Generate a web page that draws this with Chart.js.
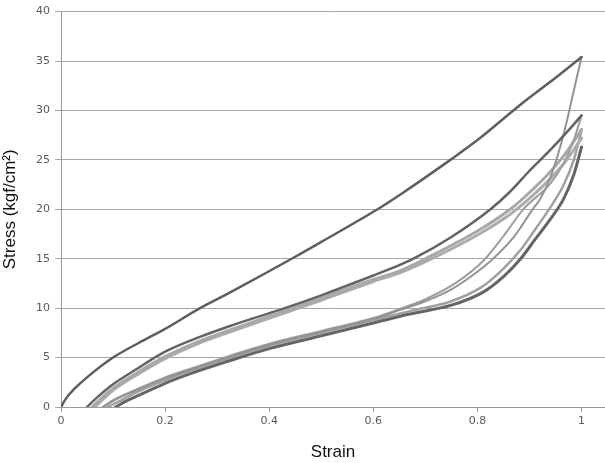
<!DOCTYPE html>
<html>
<head>
<meta charset="utf-8">
<script src="https://cdn.jsdelivr.net/npm/chart.js@4.4.1/dist/chart.umd.min.js"></script>
<style>
  html, body { margin: 0; padding: 0; background: #fff; }
  #wrap { width: 605px; height: 463px; position: relative; }
</style>
</head>
<body>
<div id="wrap"><canvas id="stressChart"></canvas></div>
<script>
// Tick labels
const strainTicks = [0, 0.2, 0.4, 0.6, 0.8, 1];
const stressTicks = [0, 5, 10, 15, 20, 25, 30, 35, 40];

// Cycle 1 loading (top curve)
const load1Strain = [0, 0.01, 0.025, 0.05, 0.1, 0.15, 0.2, 0.267, 0.325, 0.45, 0.5, 0.608, 0.652, 0.748, 0.8, 0.869, 0.9, 0.95, 1.0];
const load1Stress = [0, 0.9, 1.8, 3.0, 5.0, 6.5, 7.9, 10.0, 11.6, 15.2, 16.7, 20.0, 21.5, 25.0, 27.0, 30.0, 31.3, 33.3, 35.4];

// Cycle 1 unloading
const unload1Strain = [1.0, 0.985, 0.973, 0.96, 0.94, 0.92, 0.906, 0.87, 0.83, 0.79, 0.75, 0.7, 0.65, 0.6, 0.5, 0.4, 0.325, 0.25, 0.2, 0.15, 0.1, 0.082];
const unload1Stress = [35.4, 32.0, 29.2, 26.5, 23.2, 21.0, 20.0, 17.2, 15.0, 13.3, 11.9, 10.7, 9.8, 8.9, 7.6, 6.3, 5.1, 3.8, 2.9, 1.8, 0.6, 0];

// Cycle 2 loading
const load2Strain = [0.05, 0.07, 0.1, 0.15, 0.18, 0.2, 0.267, 0.325, 0.43, 0.5, 0.6, 0.652, 0.677, 0.75, 0.825, 0.863, 0.9, 0.94, 0.97, 1.0];
const load2Stress = [0, 1.0, 2.3, 4.0, 5.0, 5.6, 7.1, 8.2, 10.0, 11.3, 13.3, 14.4, 15.0, 17.2, 20.0, 21.8, 23.9, 26.0, 27.7, 29.5];

// Cycle 2 unloading
const unload2Strain = [1.0, 0.985, 0.965, 0.94, 0.888, 0.85, 0.815, 0.76, 0.7, 0.65, 0.6, 0.5, 0.4, 0.325, 0.25, 0.2, 0.15, 0.1, 0.08];
const unload2Stress = [29.5, 27.0, 24.6, 22.6, 20.0, 17.3, 15.0, 12.6, 10.9, 9.9, 9.0, 7.7, 6.4, 5.2, 3.9, 3.0, 1.9, 0.7, 0];

// Later loadings (light bundle)
const load3Strain = [0.06, 0.08, 0.1, 0.15, 0.2, 0.267, 0.325, 0.44, 0.5, 0.6, 0.652, 0.7, 0.8, 0.863, 0.9, 0.94, 0.97, 1.0];
const load3Stress = [0, 1.0, 1.9, 3.6, 5.1, 6.7, 7.8, 9.9, 11.0, 12.9, 13.8, 15.0, 17.8, 20.0, 21.7, 23.8, 25.7, 28.1];
const load4Strain = [0.065, 0.085, 0.1, 0.15, 0.2, 0.267, 0.325, 0.44, 0.5, 0.6, 0.652, 0.7, 0.8, 0.863, 0.9, 0.94, 0.97, 1.0];
const load4Stress = [0, 1.0, 1.7, 3.4, 4.9, 6.5, 7.6, 9.7, 10.8, 12.7, 13.6, 14.7, 17.4, 19.5, 21.1, 23.1, 24.9, 27.2];

// Later unloadings (dark lower bundle)
const unload3Strain = [1.0, 0.985, 0.965, 0.94, 0.91, 0.883, 0.85, 0.81, 0.75, 0.67, 0.6, 0.5, 0.4, 0.325, 0.25, 0.2, 0.15, 0.12, 0.09];
const unload3Stress = [28.0, 25.0, 22.4, 20.2, 17.9, 15.9, 14.0, 12.2, 10.7, 9.7, 8.8, 7.5, 6.2, 5.0, 3.7, 2.7, 1.6, 0.8, 0];
const unload4Strain = [1.0, 0.985, 0.965, 0.94, 0.91, 0.883, 0.85, 0.81, 0.75, 0.67, 0.6, 0.5, 0.4, 0.325, 0.25, 0.2, 0.15, 0.125, 0.105];
const unload4Stress = [26.3, 23.5, 21.0, 19.0, 16.9, 15.0, 13.2, 11.6, 10.3, 9.4, 8.5, 7.2, 5.9, 4.7, 3.4, 2.4, 1.2, 0.6, 0];

function pts(xs, ys) {
  return xs.map((x, i) => ({ x: x, y: ys[i] }));
}

function curve(xs, ys, color, width) {
  return {
    data: pts(xs, ys),
    borderColor: color,
    borderWidth: width,
    showLine: true,
    pointRadius: 0,
    cubicInterpolationMode: 'monotone',
    borderCapStyle: 'round',
    borderJoinStyle: 'round',
    fill: false
  };
}

const ctx = document.getElementById('stressChart').getContext('2d');

new Chart(ctx, {
  type: 'scatter',
  data: {
    datasets: [
      curve(load1Strain, load1Stress, '#5e5e5e', 2.5),
      curve(load2Strain, load2Stress, '#636363', 2.5),
      curve(unload4Strain, unload4Stress, '#656565', 3),
      curve(unload1Strain, unload1Stress, '#939393', 2),
      curve(unload2Strain, unload2Stress, '#9e9e9e', 2),
      curve(load3Strain, load3Stress, '#a8a8a8', 3),
      curve(load4Strain, load4Stress, '#acacac', 3),
      curve(unload3Strain, unload3Stress, '#a0a0a0', 2.5)
    ]
  },
  options: {
    responsive: true,
    maintainAspectRatio: false,
    animation: false,
    layout: { padding: { top: 7, right: 0, bottom: 0, left: 0 } },
    plugins: {
      legend: { display: false },
      tooltip: { enabled: false }
    },
    scales: {
      x: {
        type: 'linear',
        min: 0,
        max: 1.045,
        afterBuildTicks: function(scale) {
          scale.ticks = strainTicks.map(v => ({ value: v }));
        },
        afterFit: function(scale) {
          scale.height = 56;
        },
        ticks: {
          color: '#595959',
          font: { family: 'DejaVu Sans', size: 11 },
          padding: 3,
          maxRotation: 0,
          callback: v => String(v)
        },
        grid: {
          drawOnChartArea: false,
          color: '#9a9a9a',
          tickLength: 5
        },
        border: { color: '#9a9a9a', width: 1 },
        title: {
          display: true,
          text: 'Strain',
          color: '#111',
          font: { family: 'Liberation Sans', size: 17 },
          padding: { top: 4, bottom: 0 }
        }
      },
      y: {
        min: 0,
        max: 40,
        afterBuildTicks: function(scale) {
          scale.ticks = stressTicks.map(v => ({ value: v }));
        },
        afterFit: function(scale) {
          scale.width = 61;
        },
        ticks: {
          color: '#595959',
          font: { family: 'DejaVu Sans', size: 11 },
          padding: 5
        },
        grid: {
          color: '#a6a6a6',
          lineWidth: 1,
          tickLength: 6
        },
        border: { color: '#9a9a9a', width: 1 },
        title: {
          display: true,
          text: 'Stress (kgf/cm²)',
          color: '#111',
          font: { family: 'Liberation Sans', size: 17 },
          padding: { top: 0, bottom: 0 }
        }
      }
    }
  }
});
</script>
</body>
</html>
